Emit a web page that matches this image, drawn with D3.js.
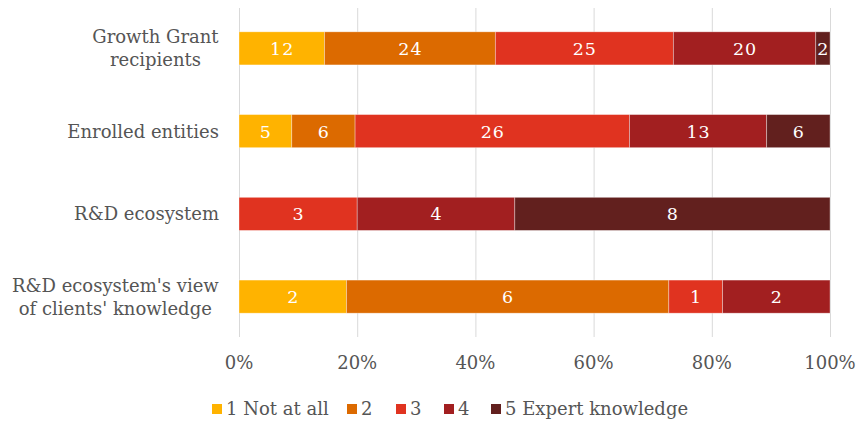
<!DOCTYPE html>
<html>
<head>
<meta charset="utf-8">
<script src="https://cdn.jsdelivr.net/npm/d3@7"></script>
<style>
  html, body { margin: 0; padding: 0; background: #fff; }
  svg text { font-family: "DejaVu Serif", serif; fill: #555555; }
</style>
</head>
<body>
<svg id="chart" width="859" height="422"></svg>
<script>
const categorias = [
  "Growth Grant recipients",
  "Enrolled entities",
  "R&D ecosystem",
  "R&D ecosystem's view of clients' knowledge"
];
const lineasEtiqueta = [
  ["Growth Grant", "recipients"],
  ["Enrolled entities"],
  ["R&D ecosystem"],
  ["R&D ecosystem's view", "of clients' knowledge"]
];
const series = ["1 Not at all", "2", "3", "4", "5 Expert knowledge"];
const colores = ["#FFB300", "#DC6A00", "#E03320", "#A21F20", "#62201E"];

// conteos por categoría, en el orden de las series
const growthGrant = [12, 24, 25, 20, 2];
const enrolled = [5, 6, 26, 13, 6];
const rdEcosystem = [0, 0, 3, 4, 8];
const rdView = [2, 6, 1, 2, 0];
const conteos = [growthGrant, enrolled, rdEcosystem, rdView];

const ticks = [0, 0.2, 0.4, 0.6, 0.8, 1];

const svg = d3.select("#chart");

const x = d3.scaleLinear().domain([0, 1]).range([239, 830]);
const y = d3.scaleBand().domain(categorias).range([7, 338])
  .paddingInner(0.6).paddingOuter(0.3);

// rejilla vertical
svg.append("g")
  .selectAll("line")
  .data(ticks)
  .join("line")
  .attr("x1", d => x(d) + 0.5)
  .attr("x2", d => x(d) + 0.5)
  .attr("y1", 8)
  .attr("y2", 337)
  .attr("stroke", "#d9d9d9")
  .attr("stroke-width", 1);

// etiquetas del eje
svg.append("g")
  .selectAll("text")
  .data(ticks)
  .join("text")
  .attr("x", d => x(d))
  .attr("y", 369)
  .attr("text-anchor", "middle")
  .style("font-size", "18px")
  .text(d3.format(".0%"));

// apilado
const filas = categorias.map((c, i) => {
  const total = d3.sum(conteos[i]);
  let acc = 0;
  return conteos[i].map((v, j) => {
    const seg = { cat: c, serie: j, valor: v, x0: acc / total, x1: (acc + v) / total };
    acc += v;
    return seg;
  }).filter(s => s.valor > 0);
});
const segmentos = filas.flat();

svg.append("g")
  .selectAll("rect")
  .data(segmentos)
  .join("rect")
  .attr("x", d => x(d.x0))
  .attr("y", d => y(d.cat))
  .attr("width", d => x(d.x1) - x(d.x0))
  .attr("height", y.bandwidth())
  .attr("fill", d => colores[d.serie])
  .attr("stroke", "rgba(255,255,255,0.45)")
  .attr("stroke-width", 0.75);

svg.append("g")
  .selectAll("text")
  .data(segmentos)
  .join("text")
  .attr("x", d => (x(d.x0) + x(d.x1)) / 2 + 0.5)
  .attr("y", d => y(d.cat) + y.bandwidth() / 2 + 6.5)
  .attr("text-anchor", "middle")
  .style("font-size", "17.5px")
  .style("letter-spacing", "1px")
  .style("fill", "#fff")
  .text(d => d.valor);

// etiquetas de categoría
const etiquetas = svg.append("g")
  .selectAll("text")
  .data(categorias)
  .join("text")
  .attr("text-anchor", "middle")
  .style("font-size", "18px");

etiquetas.each(function(c, i) {
  const lineas = lineasEtiqueta[i];
  const sel = d3.select(this);
  const centro = y(c) + y.bandwidth() / 2;
  const y0 = centro + 6.5 - (lineas.length - 1) * 11.5;
  lineas.forEach((t, k) => {
    sel.append("tspan")
      .attr("x", 0)
      .attr("y", y0 + k * 23)
      .text(t);
  });
});

// centrar cada bloque a la derecha en x=219
etiquetas.each(function() {
  const bb = this.getBBox();
  const w = bb.width;
  d3.select(this).selectAll("tspan").attr("x", 219 - w / 2);
});

// leyenda
const leyendaX = [212, 347, 396, 444, 491];
const leyenda = svg.append("g")
  .selectAll("g")
  .data(series)
  .join("g")
  .attr("transform", (d, i) => `translate(${leyendaX[i]},404)`);

leyenda.append("rect")
  .attr("width", 10)
  .attr("height", 10)
  .attr("fill", (d, i) => colores[i]);

leyenda.append("text")
  .attr("x", 14)
  .attr("y", 11)
  .style("font-size", "18px")
  .text(d => d);
</script>
</body>
</html>
